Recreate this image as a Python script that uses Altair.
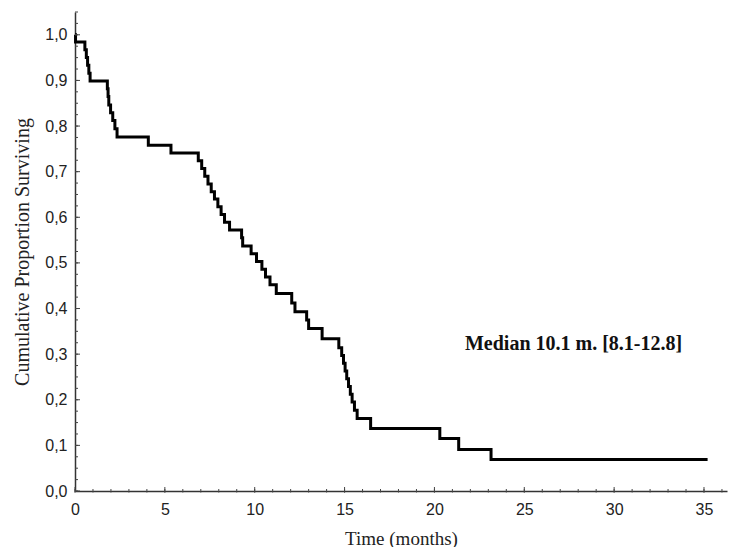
import altair as alt
import pandas as pd

# Kaplan-Meier step points (time in months, cumulative proportion surviving)
times = [0.00, 0.03, 0.55, 0.63, 0.70, 0.77, 0.84,
         1.80, 1.84, 1.88, 1.98, 2.10, 2.22, 2.34,
         4.08, 5.34,
         6.86, 7.05, 7.22, 7.40, 7.58, 7.76, 7.95, 8.13, 8.32, 8.60,
         9.27, 9.33, 9.80, 10.10, 10.40, 10.60, 10.85, 11.20,
         12.06, 12.24, 12.89, 13.00, 13.75,
         14.68, 14.84, 14.94, 15.03, 15.12, 15.22, 15.32, 15.42, 15.55, 15.70,
         16.45, 20.30, 21.35, 23.15, 35.20]
surv = [1.000, 0.984, 0.967, 0.950, 0.933, 0.916, 0.899,
        0.882, 0.865, 0.846, 0.829, 0.812, 0.794, 0.776,
        0.758, 0.741,
        0.724, 0.707, 0.690, 0.673, 0.656, 0.640, 0.623, 0.606, 0.589, 0.572,
        0.555, 0.537, 0.520, 0.503, 0.486, 0.469, 0.452, 0.433,
        0.412, 0.393, 0.375, 0.356, 0.334,
        0.314, 0.297, 0.280, 0.263, 0.246, 0.229, 0.212, 0.195, 0.177, 0.159,
        0.137, 0.115, 0.091, 0.069, 0.069]

x_major = [0, 5, 10, 15, 20, 25, 30, 35]
x_minor = [i for i in range(0, 37)]
y_major = [0.0, 0.1, 0.2, 0.3, 0.4, 0.5, 0.6, 0.7, 0.8, 0.9, 1.0]
y_minor = [round(i * 0.025, 3) for i in range(0, 43)]

median_text = "Median 10.1 m. [8.1-12.8]"

W, H = 652, 479
x_scale = alt.Scale(domain=[0, 36.28], nice=False, zero=False)
y_scale = alt.Scale(domain=[0, 1.05], nice=False)

x_axis = alt.Axis(title="Time (months)", values=x_major, ticks=False,
                  tickSize=0, labelPadding=10, titlePadding=12,
                  labelFlush=False, labelOverlap=False)
y_axis = alt.Axis(title="Cumulative Proportion Surviving", values=y_major,
                  ticks=False, tickSize=0, labelPadding=8, titlePadding=12,
                  titleFontSize=20,
                  labelFlush=False, labelOverlap=False,
                  labelExpr="replace(format(datum.value, '.1f'), '.', ',')")

df = pd.DataFrame({"t": times, "s": surv})

curve = alt.Chart(df).mark_line(
    interpolate="step-after", color="black", strokeWidth=3
).encode(
    x=alt.X("t:Q", scale=x_scale, axis=x_axis),
    y=alt.Y("s:Q", scale=y_scale, axis=y_axis),
)

ymin = alt.Chart(pd.DataFrame({"v": y_minor})).mark_rule(color="#444", strokeWidth=1).encode(
    y=alt.Y("v:Q", scale=y_scale, axis=y_axis), x=alt.value(0), x2=alt.value(3))
ymaj = alt.Chart(pd.DataFrame({"v": y_major})).mark_rule(color="#444", strokeWidth=1).encode(
    y=alt.Y("v:Q", scale=y_scale, axis=y_axis), x=alt.value(0), x2=alt.value(5))
xmin = alt.Chart(pd.DataFrame({"v": x_minor})).mark_rule(color="#444", strokeWidth=1).encode(
    x=alt.X("v:Q", scale=x_scale, axis=x_axis), y=alt.value(H + 1.5), y2=alt.value(H - 2))
xmaj = alt.Chart(pd.DataFrame({"v": x_major})).mark_rule(color="#444", strokeWidth=1).encode(
    x=alt.X("v:Q", scale=x_scale, axis=x_axis), y=alt.value(H + 1.5), y2=alt.value(H - 4))

note = alt.Chart(pd.DataFrame({"label": [median_text]})).mark_text(
    align="left", baseline="alphabetic", font="Liberation Serif",
    fontSize=20, fontWeight="bold", color="#111"
).encode(x=alt.X(datum=21.7, type="quantitative", scale=x_scale, axis=x_axis),
         y=alt.Y(datum=0.3085, type="quantitative", scale=y_scale, axis=y_axis),
         text="label:N")

chart = alt.layer(curve, ymin, ymaj, xmin, xmaj, note).properties(
    width=W, height=H,
    autosize=alt.AutoSizeParams(type="none"),
    padding={"left": 67, "top": 4, "right": 3, "bottom": 56},
    background="white",
).configure_view(stroke=None).configure_axis(
    grid=False, domainColor="#333", domainWidth=1.5,
    labelFont="Liberation Sans", labelFontSize=16, labelColor="#222",
    titleFont="Liberation Serif", titleFontSize=19, titleFontWeight="normal",
    titleColor="#222",
)

chart.save("out.html", embed_options={"renderer": "svg", "actions": False})
